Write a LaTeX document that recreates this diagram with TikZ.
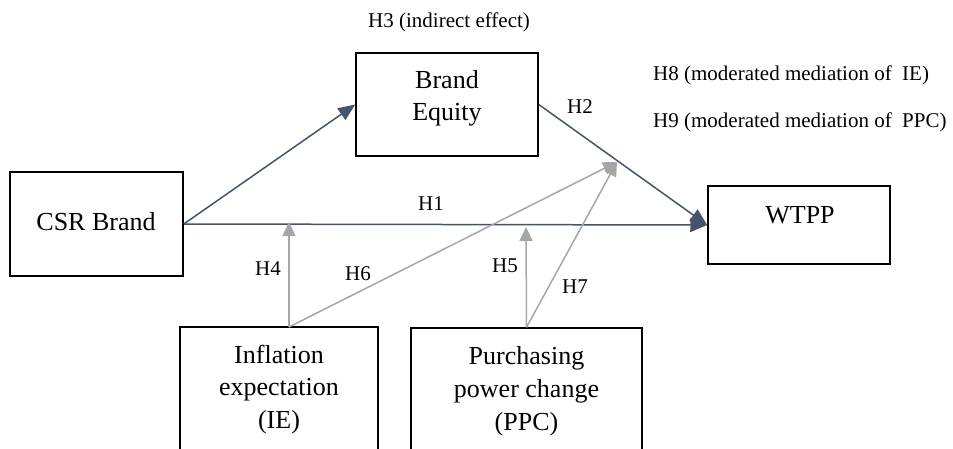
\documentclass[tikz,border=0pt]{standalone}
\usepackage{fontspec}
\setmainfont{Liberation Serif}
\usetikzlibrary{arrows.meta,calc}
\definecolor{navy}{HTML}{44546A}
\definecolor{lgray}{HTML}{A6A6A6}
\begin{document}
\begin{tikzpicture}[x=1pt,y=-1pt,
  box/.style={draw=black,line width=1.5pt,inner sep=0pt},
  boxtext/.style={inner sep=0pt,align=center,anchor=base},
  lab/.style={font=\fontsize{21}{24}\selectfont,inner sep=0pt,anchor=base west},
  darr/.style={draw=navy,line width=1.5pt,-{Triangle[length=17pt,width=14pt]}},
  garr/.style={draw=lgray,line width=1.5pt,-{Triangle[length=14pt,width=13pt]}}]
\useasboundingbox (0,0) rectangle (953,448);
\clip (0,0) rectangle (953,448);
% boxes
\node[box,minimum width=173pt,minimum height=104pt] (csr) at (96.5,224) {};
\node[box,minimum width=182pt,minimum height=103pt] (be) at (447,104.5) {};
\node[box,minimum width=182pt,minimum height=78pt] (wtpp) at (799,225) {};
\node[box,minimum width=198pt,minimum height=143pt] (ie) at (279,398.5) {};
\node[box,minimum width=231pt,minimum height=142pt] (ppc) at (526.5,399) {};
% box texts (base = baseline of last line)
\node[boxtext,font=\fontsize{26}{32}\selectfont] (csrt) at (96,230) {CSR Brand};
\node[boxtext,font=\fontsize{26}{32}\selectfont] (bet) at (447,120) {Brand\\Equity};
\node[boxtext,font=\fontsize{26}{32}\selectfont] (wtppt) at (800,223) {WTPP};
\node[boxtext,font=\fontsize{26}{32.5}\selectfont] (iet) at (279,428) {Inflation\\expectation\\(IE)};
\node[boxtext,font=\fontsize{26}{33}\selectfont] (ppct) at (526.5,430) {Purchasing\\power change\\(PPC)};
% coordinates
\coordinate (ietop) at (289,327);
\coordinate (m1) at (289,222);
\coordinate (m2) at (526,227);
\coordinate (m3) at (617,162);
% main paths
\draw[darr] (csr.east) -- (be.west);
\draw[darr] (csr.east) -- (wtpp.west);
\draw[darr] (be.east) -- (wtpp.west);
% moderators
\draw[garr] (ietop) -- (m1);
\draw[garr] (ietop) -- (m3);
\draw[garr] (ppc.north) -- (m2);
\draw[garr] (ppc.north) -- (m3);
% labels
\node[lab] (h1) at (418,210) {H1};
\node[lab] (h2) at (567,113) {H2};
\node[lab] (h3) at (368,27) {H3 (indirect effect)};
\node[lab] (h4) at (255,275) {H4};
\node[lab] (h5) at (492,272) {H5};
\node[lab] (h6) at (345,280) {H6};
\node[lab] (h7) at (562,293) {H7};
\node[lab] (h8) at (653,80) {H8 (moderated mediation of\ \ IE)};
\node[lab] (h9) at (653,127) {H9 (moderated mediation of\ \ PPC)};
\end{tikzpicture}
\end{document}
